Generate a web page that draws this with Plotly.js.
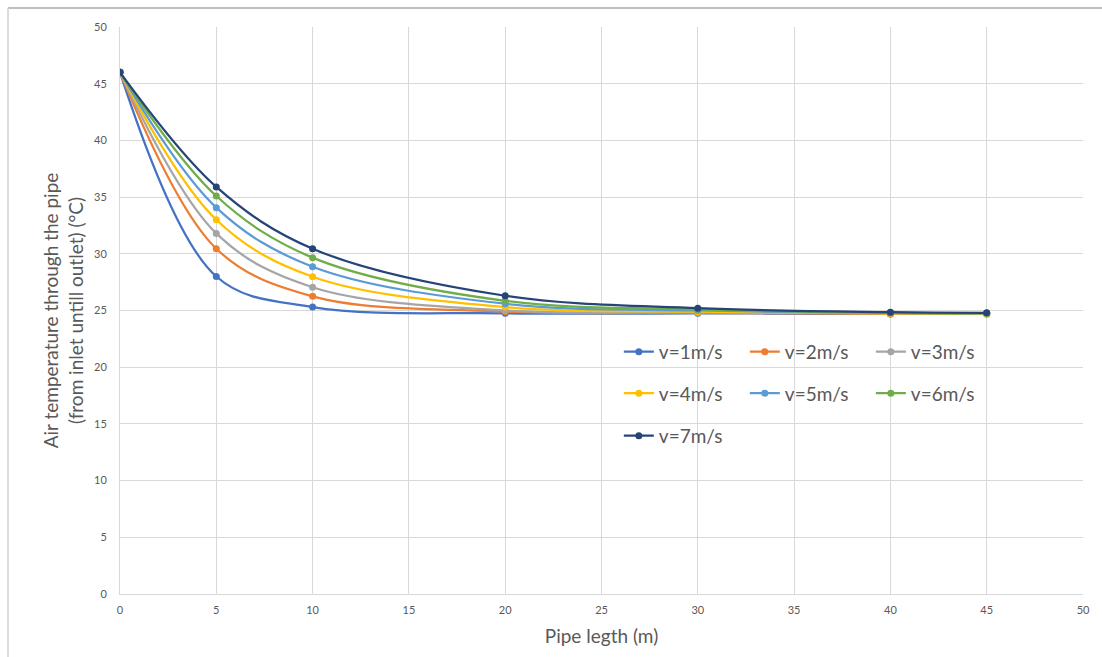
<!DOCTYPE html>
<html>
<head>
<meta charset="utf-8">
<script src="https://cdn.plot.ly/plotly-3.0.1.min.js"></script>
<style>html,body{margin:0;padding:0;background:#fff;}#chart{width:1102px;height:657px;}</style>
</head>
<body>
<div id="chart"></div>
<script>
const pipeLength = [0, 5, 10, 20, 30, 40, 45];
const seriesNames = ["v=1m/s", "v=2m/s", "v=3m/s", "v=4m/s", "v=5m/s", "v=6m/s", "v=7m/s"];
const v1 = [46.0, 28.0, 25.3, 24.75, 24.75, 24.7, 24.7];
const v2 = [46.0, 30.45, 26.25, 24.9, 24.8, 24.7, 24.7];
const v3 = [46.0, 31.8, 27.05, 25.0, 24.85, 24.75, 24.7];
const v4 = [46.0, 33.0, 27.98, 25.3, 24.9, 24.75, 24.7];
const v5 = [46.0, 34.07, 28.86, 25.6, 25.0, 24.8, 24.75];
const v6 = [46.0, 35.1, 29.66, 25.85, 25.1, 24.8, 24.75];
const v7 = [46.0, 35.9, 30.45, 26.3, 25.2, 24.85, 24.8];
const colors = ["#4472C4", "#ED7D31", "#A5A5A5", "#FFC000", "#5B9BD5", "#70AD47", "#264478"];
const allSeries = [v1, v2, v3, v4, v5, v6, v7];
const legendIds = ["legend", "legend", "legend", "legend2", "legend2", "legend2", "legend3"];

const traces = allSeries.map((ys, i) => ({
  x: pipeLength,
  y: ys,
  name: seriesNames[i],
  type: "scatter",
  mode: "lines+markers",
  line: {color: colors[i], width: 2.25, shape: "spline", smoothing: 1},
  marker: {color: colors[i], size: 7},
  legend: legendIds[i]
}));
const gray = "#595959";
const legendBase = {
  orientation: "h",
  xanchor: "left",
  yanchor: "middle",
  font: {family: "Lato, 'Open Sans', sans-serif", size: 19, color: gray},
  bgcolor: "rgba(0,0,0,0)",
  entrywidth: 81,
  entrywidthmode: "pixels",
  itemwidth: 30,
  traceorder: "normal"
};
const layout = {
  width: 1102,
  height: 657,
  margin: {l: 120, r: 19, t: 27, b: 63},
  paper_bgcolor: "#ffffff",
  plot_bgcolor: "#ffffff",
  font: {family: "Lato, 'Open Sans', sans-serif", color: gray},
  xaxis: {
    range: [0, 50],
    dtick: 5,
    tick0: 0,
    showgrid: true,
    gridcolor: "#d9d9d9",
    gridwidth: 1,
    zeroline: false,
    showline: true,
    linecolor: "#d9d9d9",
    ticks: "",
    ticklabelstandoff: 6,
    tickfont: {size: 11, color: gray},
    title: {text: "Pipe legth (m)", font: {size: 19, color: gray}, standoff: 14}
  },
  yaxis: {
    range: [0, 50],
    dtick: 5,
    tick0: 0,
    showgrid: true,
    gridcolor: "#d9d9d9",
    gridwidth: 1,
    zeroline: false,
    showline: true,
    linecolor: "#d9d9d9",
    ticks: "",
    ticklabelstandoff: 10,
    tickfont: {size: 11, color: gray},
    title: {text: "Air temperature through the pipe<br>(from inlet untill outlet) (°C)", font: {size: 19, color: gray}, standoff: 5}
  },
  legend: Object.assign({}, legendBase, {x: 0.518, y: 0.427}),
  legend2: Object.assign({}, legendBase, {x: 0.518, y: 0.354}),
  legend3: Object.assign({}, legendBase, {x: 0.518, y: 0.279}),
  shapes: [
    {type: "line", xref: "paper", yref: "paper", x0: -0.1163, x1: 1.05, y0: 1.0335, y1: 1.0335, line: {color: "#bfbfbf", width: 2}},
    {type: "line", xref: "paper", yref: "paper", x0: -0.1163, x1: -0.1163, y0: 1.0335, y1: -0.12, line: {color: "#d0d0d0", width: 1.5}}
  ]
};
Plotly.newPlot("chart", traces, layout, {displayModeBar: false, responsive: false});
</script>
</body>
</html>
